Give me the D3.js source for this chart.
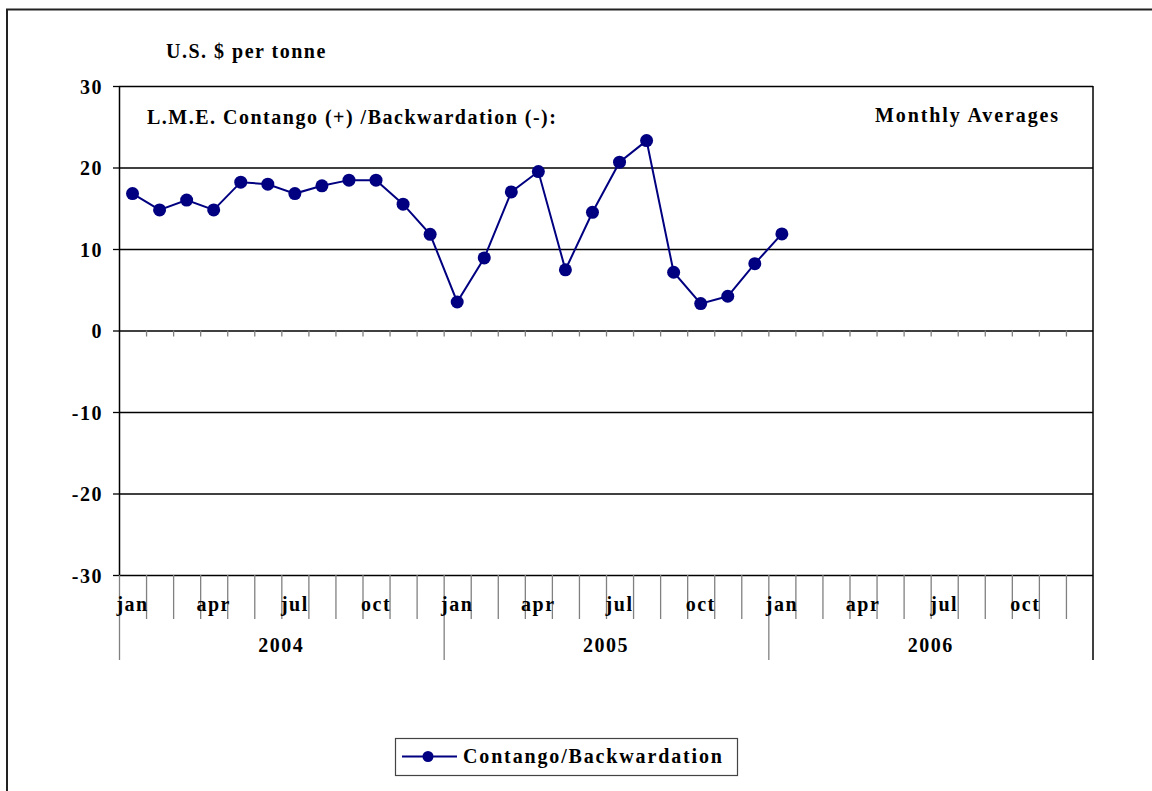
<!DOCTYPE html>
<html lang="en">
<head>
  <meta charset="UTF-8">
  <title>LME Contango / Backwardation</title>
  <script src="https://d3js.org/d3.v7.min.js"></script>
  <style>
    body { margin: 0; background: #fff; }
    text { font-family: "Liberation Serif", "Times New Roman", serif; font-weight: bold; font-size: 20px; letter-spacing: 1.5px; fill: #000; }
  </style>
</head>
<body>
  <svg width="1152" height="791"></svg>

  <script>
    // Data (monthly averages, US$ per tonne)
    const months = ["jan", "feb", "mar", "apr", "may", "jun", "jul", "aug", "sep", "oct", "nov", "dec"];
    const years = ["2004", "2005", "2006"];
    const shownMonths = ["jan", "apr", "jul", "oct"];
    const values = [
      16.8, 14.8, 16.0, 14.8, 18.2, 17.95, 16.8, 17.75, 18.45, 18.45, 15.5, 11.8,
      3.5, 8.9, 17.0, 19.5, 7.45, 14.5, 20.65, 23.3, 7.15, 3.3, 4.2, 8.2,
      11.85
    ];
    const yTicks = [-30, -20, -10, 0, 10, 20, 30];
    const seriesName = "Contango/Backwardation";

    const categories = years.flatMap(yr => months.map(m => yr + "-" + m));
    const points = values.map((v, i) => ({ cat: categories[i], value: v }));

    // Plot area
    const plotLeft = 119, plotRight = 1093, plotTop = 86, plotBottom = 575;
    const navy = "#000080";

    const svg = d3.select("svg");

    // outer chart frame (runs off the page to the right and bottom)
    svg.append("rect")
      .attr("x", 7).attr("y", 9.5)
      .attr("width", 1200).attr("height", 900)
      .attr("fill", "none")
      .attr("stroke", "#222")
      .attr("stroke-width", 2);

    // Scales
    const x = d3.scaleBand().domain(categories).range([plotLeft, plotRight]).padding(0);
    const xIdx = d3.scaleLinear().domain([0, categories.length]).range([plotLeft, plotRight]);
    const y = d3.scaleLinear().domain([-30, 30]).range([plotBottom, plotTop]);

    // Gridlines
    svg.append("g")
      .attr("transform", `translate(${plotLeft},0)`)
      .call(d3.axisLeft(y).tickValues(yTicks).tickSize(-(plotRight - plotLeft)).tickFormat(""))
      .call(g => g.select(".domain").remove())
      .call(g => g.selectAll("line").attr("stroke", "#000").attr("stroke-width", 1.3));

    // right border of plot area
    svg.append("line")
      .attr("x1", plotRight).attr("x2", plotRight)
      .attr("y1", plotTop).attr("y2", 660)
      .attr("stroke", "#000").attr("stroke-width", 1.5);

    // Y axis
    svg.append("g")
      .attr("transform", `translate(${plotLeft},0)`)
      .call(d3.axisLeft(y).tickValues(yTicks).tickSize(6).tickSizeOuter(0).tickPadding(10).tickFormat(d => d))
      .call(g => g.select(".domain").attr("stroke", "#000").attr("stroke-width", 1.5))
      .call(g => g.selectAll("line").attr("stroke", "#000").attr("stroke-width", 1.3))
      .call(g => g.selectAll("text")
        .attr("font-size", null).attr("font-family", null)
        .attr("dy", "0.36em"));

    // minor tick marks on the zero line
    svg.append("g")
      .attr("transform", `translate(0,${y(0)})`)
      .call(d3.axisBottom(xIdx).tickValues(d3.range(1, categories.length)).tickSize(6).tickFormat(""))
      .call(g => g.select(".domain").remove())
      .call(g => g.selectAll("line").attr("stroke", "#808080").attr("stroke-width", 1.3));

    // multi-level category axis below the plot
    const yearStarts = years.map((yr, i) => i * months.length);
    svg.append("g")
      .attr("transform", `translate(0,${plotBottom})`)
      .call(d3.axisBottom(xIdx)
        .tickValues(d3.range(1, categories.length).filter(i => i % months.length !== 0))
        .tickSize(44).tickFormat(""))
      .call(g => g.select(".domain").remove())
      .call(g => g.selectAll("line").attr("stroke", "#808080").attr("stroke-width", 1.3));

    svg.append("g")
      .attr("transform", `translate(0,${plotBottom})`)
      .call(d3.axisBottom(xIdx).tickValues(yearStarts).tickSize(85).tickFormat(""))
      .call(g => g.select(".domain").remove())
      .call(g => g.selectAll("line").attr("stroke", "#808080").attr("stroke-width", 1.3));

    // month labels
    svg.append("g")
      .attr("transform", `translate(0,${plotBottom})`)
      .call(d3.axisBottom(x).tickSize(0).tickPadding(0)
        .tickFormat(d => {
          const m = d.split("-")[1];
          return shownMonths.includes(m) ? m : "";
        }))
      .call(g => g.select(".domain").remove())
      .call(g => g.selectAll("text")
        .attr("font-size", null).attr("font-family", null)
        .attr("y", 36).attr("dy", null));

    // year labels
    svg.append("g").selectAll("text")
      .data(years)
      .join("text")
      .attr("x", (yr, i) => (xIdx(i * 12) + xIdx((i + 1) * 12)) / 2)
      .attr("y", 652)
      .attr("text-anchor", "middle")
      .text(d => d);

    // Series line and markers
    const line = d3.line()
      .x(d => x(d.cat) + x.bandwidth() / 2)
      .y(d => y(d.value));

    svg.append("path")
      .datum(points)
      .attr("d", line)
      .attr("fill", "none")
      .attr("stroke", navy)
      .attr("stroke-width", 2);

    svg.append("g").selectAll("circle")
      .data(points)
      .join("circle")
      .attr("cx", d => x(d.cat) + x.bandwidth() / 2)
      .attr("cy", d => y(d.value))
      .attr("r", 6.5)
      .attr("fill", navy);

    // Titles
    svg.append("text").attr("x", 166).attr("y", 58).text("U.S. $ per tonne");
    svg.append("text").attr("x", 147).attr("y", 124).text("L.M.E. Contango (+) /Backwardation (-):");
    svg.append("text").attr("x", 875).attr("y", 122)
      .style("letter-spacing", "1.9px")
      .text("Monthly Averages");

    // Legend
    const legend = svg.append("g");
    legend.append("rect")
      .attr("x", 395.5).attr("y", 738.5)
      .attr("width", 342).attr("height", 37)
      .attr("fill", "#fff")
      .attr("stroke", "#444").attr("stroke-width", 1.2);
    legend.append("line")
      .attr("x1", 402).attr("x2", 457)
      .attr("y1", 756.5).attr("y2", 756.5)
      .attr("stroke", navy).attr("stroke-width", 2);
    legend.append("circle")
      .attr("cx", 428).attr("cy", 756.5).attr("r", 5.5)
      .attr("fill", navy);
    legend.append("text")
      .attr("x", 463).attr("y", 763)
      .style("letter-spacing", "1.85px")
      .text(seriesName);
  </script>
</body>
</html>
